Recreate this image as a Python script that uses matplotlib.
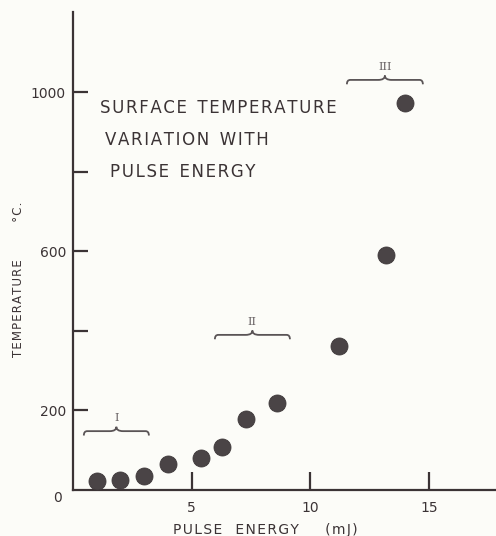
import matplotlib
matplotlib.use("Agg")
import matplotlib.pyplot as plt
import numpy as np
from matplotlib.path import Path
from matplotlib.patches import PathPatch

# pulse energy (mJ) vs surface temperature (deg C)
energy = [1.0, 2.0, 3.0, 4.0, 5.4, 6.3, 7.3, 8.6, 11.2, 13.2, 14.0]
temperature = [23, 25, 36, 65, 80, 109, 179, 218, 363, 590, 972]

# regions marked with braces
region_labels = ["I", "II", "III"]
region_start = [0.46, 5.98, 11.54]
region_end = [3.2, 9.14, 14.74]
region_level = [148, 390, 1031]

yticks = [200, 400, 600, 800, 1000]
ytick_labels = ["200", "", "600", "", "1000"]
xticks = [5, 10, 15]
xtick_labels = ["5", "10", "15"]

ink = "#3b3335"
bg = "#fcfcf8"
HAIR = "\u200a"


def spaced(s, sep=HAIR):
    # old lettering-guide text is widely tracked; fake it with hair spaces
    return " ".join(sep.join(w) for w in s.split(" "))


def brace(ax, x0, x1, y, w=0.14, wc=0.28, h=11, color="#5a5456"):
    xc = (x0 + x1) / 2
    verts = [(x0, y - h), (x0, y), (x0 + w, y),
             (xc - wc, y),
             (xc, y), (xc, y + h),
             (xc, y), (xc + wc, y),
             (x1 - w, y),
             (x1, y), (x1, y - h)]
    codes = [Path.MOVETO, Path.CURVE3, Path.CURVE3,
             Path.LINETO,
             Path.CURVE3, Path.CURVE3,
             Path.CURVE3, Path.CURVE3,
             Path.LINETO,
             Path.CURVE3, Path.CURVE3]
    ax.add_patch(PathPatch(Path(verts, codes), fill=False, lw=1.3,
                           edgecolor=color, clip_on=False))
    return xc


fig = plt.figure(figsize=(4.96, 5.36), dpi=100, facecolor=bg)
ax = fig.add_axes([0.147, 0.0858, 0.853, 0.892], facecolor=bg)

ax.scatter(energy, temperature, s=150, color="#4a4446", edgecolors="#3e383a",
           linewidths=0.6, zorder=3, clip_on=False)

ax.set_xlim(0, 17.82)
ax.set_ylim(0, 1202)

for s in ["top", "right"]:
    ax.spines[s].set_visible(False)
for s in ["left", "bottom"]:
    ax.spines[s].set_linewidth(1.6)
    ax.spines[s].set_color(ink)

ax.set_yticks(yticks, ytick_labels)
ax.set_xticks(xticks, xtick_labels)
ax.tick_params(axis="y", direction="in", length=11, width=1.6, color=ink,
               labelsize=10, labelcolor=ink, pad=5)
ax.tick_params(axis="x", direction="in", length=13, width=1.6, color=ink,
               labelsize=10, labelcolor=ink, pad=8)
ax.text(-0.45, -20, "0", ha="right", va="center", fontsize=10, color=ink)

for lab, x0, x1, y in zip(region_labels, region_start, region_end, region_level):
    xc = brace(ax, x0, x1, y)
    ax.text(xc, y + 32, lab, ha="center", va="center", fontsize=8,
            family="DejaVu Serif", color="#6a6466")

title_lines = ["SURFACE  TEMPERATURE", "VARIATION  WITH", "PULSE  ENERGY"]
title_x = [1.15, 1.35, 1.55]
for i, line in enumerate(title_lines):
    ax.text(title_x[i], 960 - i * 80, spaced(line), ha="left", va="center",
            fontsize=12, color=ink)

ax.set_xlabel(spaced("PULSE   ENERGY      (mJ)"), fontsize=10, color=ink)
ax.xaxis.set_label_coords(0.455, -0.068)
ax.set_ylabel(spaced("TEMPERATURE") + "          " + spaced("°C."),
              fontsize=8.5, color=ink)
ax.yaxis.set_label_coords(-0.113, 0.44)

fig.savefig("out.png", dpi=100, facecolor=bg)
